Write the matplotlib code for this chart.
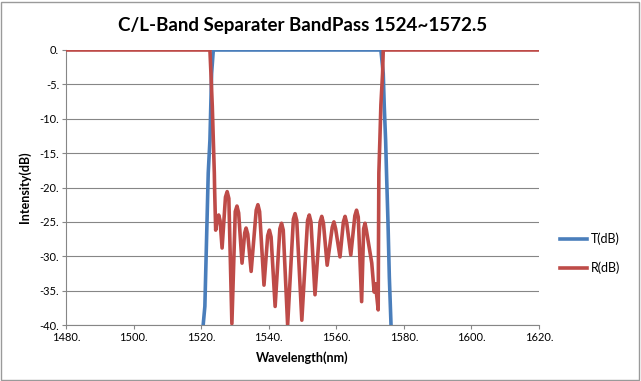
import matplotlib
matplotlib.use("Agg")
import matplotlib.pyplot as plt
from matplotlib.patches import Rectangle

# transmitted (T) curve, wavelength in nm and level in dB
t_wl = [1518.0, 1520.0, 1520.6, 1521.1, 1522.1, 1522.6, 1523.1, 1523.6,
        1530.0, 1540.0, 1550.0, 1560.0, 1570.0, 1573.2,
        1573.9, 1574.2, 1574.6, 1574.9, 1575.3, 1575.7, 1576.2, 1576.8, 1578.0]
t_db = [-60.0, -48.0, -40.0, -37.3, -17.9, -13.1, -3.4, 0.0,
        0.0, 0.0, 0.0, 0.0, 0.0, 0.0,
        -3.4, -8.2, -13.1, -18.4, -25.0, -33.0, -40.0, -48.0, -60.0]

# reflected (R) curve
r_wl = [1480.0, 1500.0, 1522.6, 1522.9, 1523.3, 1523.9, 1524.0, 1524.3,
        1524.8, 1525.2, 1525.6, 1526.2,
        1527.2, 1527.7, 1528.2, 1529.1,
        1530.1, 1530.6, 1531.1, 1532.1,
        1532.9, 1533.3, 1533.8, 1534.8,
        1536.3, 1536.8, 1537.3, 1538.6,
        1539.7, 1540.2, 1540.7, 1541.9,
        1543.3, 1543.8, 1544.3, 1545.6,
        1547.3, 1547.8, 1548.3, 1549.8,
        1551.5, 1552.0, 1552.5, 1553.7,
        1555.2, 1555.7, 1556.2, 1557.3,
        1558.8, 1559.3, 1559.8, 1561.1,
        1562.1, 1562.6, 1563.1, 1564.3,
        1565.5, 1566.0, 1566.5, 1567.5,
        1568.1, 1568.5, 1568.9, 1570.5,
        1571.2, 1571.6, 1572.4, 1572.6,
        1572.9, 1573.2, 1573.7, 1573.9, 1600.0, 1620.0]
r_db = [0.0, 0.0, 0.0, -3.4, -8.2, -17.9, -20.5, -26.2,
        -24.6, -24.0, -24.8, -28.8,
        -21.4, -20.6, -21.6, -39.8,
        -23.5, -22.7, -23.7, -31.0,
        -26.6, -25.9, -26.8, -32.2,
        -23.3, -22.5, -23.5, -34.2,
        -27.0, -26.2, -27.2, -37.3,
        -26.0, -25.2, -26.2, -40.0,
        -24.6, -23.8, -24.8, -39.3,
        -24.8, -24.0, -25.0, -35.6,
        -25.0, -24.2, -25.2, -31.3,
        -25.8, -25.0, -26.0, -30.1,
        -25.0, -24.2, -25.2, -29.8,
        -24.1, -23.3, -24.3, -36.6,
        -26.0, -25.2, -26.2, -31.0,
        -35.2, -34.0, -37.8, -17.9,
        -13.1, -8.0, -3.4, 0.0, 0.0, 0.0]

x_ticks = [1480, 1500, 1520, 1540, 1560, 1580, 1600, 1620]
y_ticks = [0, -5, -10, -15, -20, -25, -30, -35, -40]

font = ['Lato', 'DejaVu Sans']
plt.rcParams['font.family'] = font

fig = plt.figure(figsize=(6.41, 3.81), dpi=100)
ax = fig.add_axes([66 / 641, 1 - 325 / 381, 473 / 641, 275 / 381])

ax.plot(t_wl, t_db, color='#4A7EBB', lw=2.6, label='T(dB)', zorder=3,
        solid_joinstyle='round')
ax.plot(r_wl, r_db, color='#BE4B48', lw=2.6, label='R(dB)', zorder=4,
        solid_joinstyle='round')

ax.set_xlim(1480, 1620)
ax.set_ylim(-40, 0)
ax.set_xticks(x_ticks)
ax.set_xticklabels([f'{v}.' for v in x_ticks])
ax.set_yticks(y_ticks)
ax.set_yticklabels([f'{v}.' for v in y_ticks])
ax.tick_params(labelsize=8, length=3, width=0.8, color='#868686', pad=2)
ax.yaxis.grid(True, color='#868686', lw=0.8)
ax.set_axisbelow(True)
for s in ['top', 'right']:
    ax.spines[s].set_visible(False)
for s in ['left', 'bottom']:
    ax.spines[s].set_color('#868686')
    ax.spines[s].set_linewidth(0.8)

ax.set_title('C/L-Band Separater BandPass 1524~1572.5', fontsize=13.5,
             fontweight='bold', pad=14)
ax.set_xlabel('Wavelength(nm)', fontsize=9, fontweight='bold', labelpad=6)
ax.set_ylabel('Intensity(dB)', fontsize=9, fontweight='bold', labelpad=6)

ax.legend(loc='center left', bbox_to_anchor=(1.02, 0.26), frameon=False,
          fontsize=9, handlelength=2.2, labelspacing=1.3, handletextpad=0.3)

fig.patches.append(Rectangle((0.002, 0.003), 0.995, 0.993,
                             transform=fig.transFigure, fill=False,
                             edgecolor='#9a9a9a', lw=1))

plt.savefig('out.png', dpi=100)
